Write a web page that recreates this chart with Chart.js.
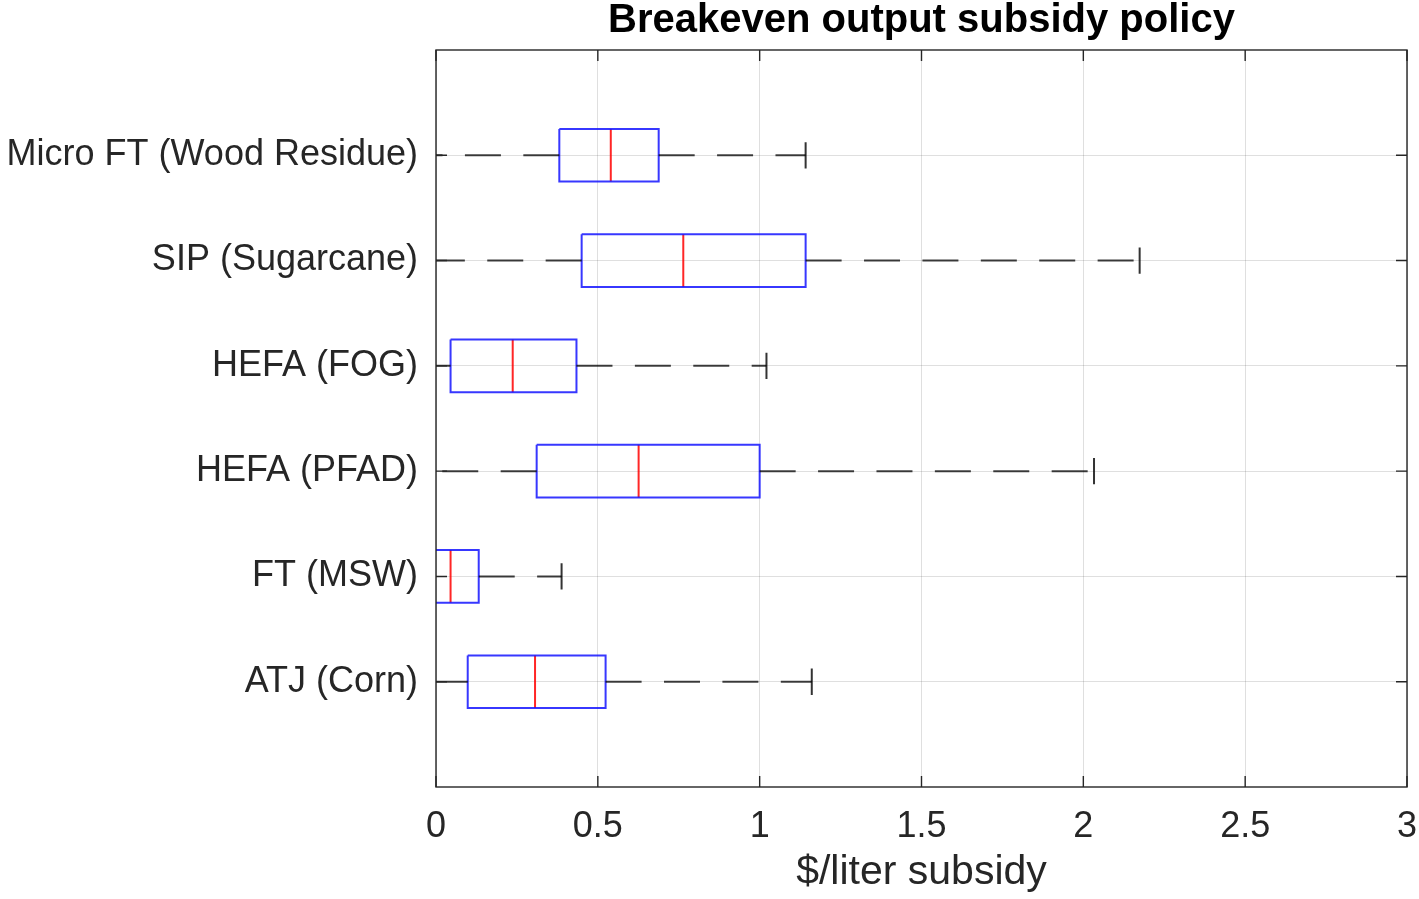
<!DOCTYPE html>
<html>
<head>
<meta charset="utf-8">
<title>Breakeven output subsidy policy</title>
<script src="https://cdn.jsdelivr.net/npm/chart.js@4"></script>
<style>
    html, body { margin: 0; padding: 0; background: #fff; }
    #wrap { width: 1419px; height: 899px; position: relative; }
</style>
</head>
<body>
<div id="wrap"><canvas id="chart"></canvas></div>
<script>
// Box plot data, one entry per category (top to bottom)
const categories = ['Micro FT (Wood Residue)', 'SIP (Sugarcane)', 'HEFA (FOG)', 'HEFA (PFAD)', 'FT (MSW)', 'ATJ (Corn)'];
const lowerWhisker = [-0.10, -0.45, -0.35, -0.50, -0.15, -0.25];
const q1 = [0.381, 0.450, 0.045, 0.311, -0.01, 0.098];
const median = [0.540, 0.764, 0.237, 0.626, 0.045, 0.306];
const q3 = [0.688, 1.142, 0.434, 1.000, 0.132, 0.524];
const upperWhisker = [1.142, 2.174, 1.021, 2.033, 0.388, 1.161];
const xTicks = [0, 0.5, 1, 1.5, 2, 2.5, 3];

const FONT = 'Liberation Sans, Arial, Helvetica, sans-serif';
const AXIS_COLOR = '#262626';
const BOX_HALF = 0.25;
const CAP_HALF = 0.125;

// Build line segments for every box
const datasets = [];
categories.forEach((name, i) => {
    const y = i + 1;
    const whisker = {
        borderColor: 'rgba(0,0,0,0.75)',
        borderWidth: 2,
        borderDash: [36, 22.4],
        showLine: true,
        pointRadius: 0
    };
    const solid = {
        borderColor: 'rgba(0,0,0,0.8)',
        borderWidth: 2,
        showLine: true,
        pointRadius: 0
    };
    datasets.push(Object.assign({ data: [{ x: q1[i], y }, { x: lowerWhisker[i], y }] }, whisker));
    datasets.push(Object.assign({ data: [{ x: q3[i], y }, { x: upperWhisker[i], y }] }, whisker));
    datasets.push(Object.assign({ data: [{ x: lowerWhisker[i], y: y - CAP_HALF }, { x: lowerWhisker[i], y: y + CAP_HALF }] }, solid));
    datasets.push(Object.assign({ data: [{ x: upperWhisker[i], y: y - CAP_HALF }, { x: upperWhisker[i], y: y + CAP_HALF }] }, solid));
    // box outline
    datasets.push({
        data: [
            { x: q1[i], y: y - BOX_HALF }, { x: q3[i], y: y - BOX_HALF },
            { x: q3[i], y: y + BOX_HALF }, { x: q1[i], y: y + BOX_HALF },
            { x: q1[i], y: y - BOX_HALF }
        ],
        borderColor: 'rgba(20,20,255,0.85)',
        borderWidth: 2,
        showLine: true,
        pointRadius: 0
    });
    // median
    datasets.push({
        data: [{ x: median[i], y: y - BOX_HALF }, { x: median[i], y: y + BOX_HALF }],
        borderColor: 'rgba(255,0,0,0.85)',
        borderWidth: 2,
        showLine: true,
        pointRadius: 0
    });
});

// Box around the axes with inward tick marks (MATLAB look)
const framePlugin = {
    id: 'frame',
    afterDraw(chart) {
        const ctx = chart.ctx;
        const a = chart.chartArea;
        const xs = chart.scales.x;
        const ys = chart.scales.y;
        const len = 11;
        ctx.save();
        ctx.strokeStyle = AXIS_COLOR;
        ctx.lineWidth = 1.4;
        ctx.strokeRect(a.left, a.top, a.right - a.left, a.bottom - a.top);
        ctx.beginPath();
        xs.ticks.forEach(t => {
            const px = xs.getPixelForValue(t.value);
            ctx.moveTo(px, a.bottom); ctx.lineTo(px, a.bottom - len);
            ctx.moveTo(px, a.top); ctx.lineTo(px, a.top + len);
        });
        ys.ticks.forEach(t => {
            const py = ys.getPixelForValue(t.value);
            ctx.moveTo(a.left, py); ctx.lineTo(a.left + len, py);
            ctx.moveTo(a.right, py); ctx.lineTo(a.right - len, py);
        });
        ctx.stroke();
        ctx.restore();
    }
};

const ctx = document.getElementById('chart').getContext('2d');

new Chart(ctx, {
    type: 'scatter',
    data: { datasets: datasets },
    options: {
        responsive: true,
        maintainAspectRatio: false,
        animation: false,
        layout: { padding: { left: 0, right: 12, top: 0, bottom: 0 } },
        plugins: {
            legend: { display: false },
            tooltip: { enabled: false }
        },
        scales: {
            x: {
                type: 'linear',
                position: 'bottom',
                min: 0,
                max: 3,
                afterBuildTicks: scale => { scale.ticks = xTicks.map(v => ({ value: v })); },
                afterFit: scale => {
                    scale.height = 112;
                    scale.paddingLeft = 0;
                    scale.paddingRight = 0;
                },
                grid: { color: 'rgba(38,38,38,0.15)', lineWidth: 1, drawTicks: false },
                border: { display: false },
                ticks: {
                    color: AXIS_COLOR,
                    font: { family: FONT, size: 36 },
                    padding: 18,
                    maxRotation: 0,
                    callback: v => String(v)
                },
                title: {
                    display: true,
                    text: '$/liter subsidy',
                    color: AXIS_COLOR,
                    font: { family: FONT, size: 41 },
                    padding: { top: 0, bottom: 2 }
                }
            },
            xTop: {
                type: 'linear',
                position: 'top',
                min: 0,
                max: 3,
                afterFit: scale => {
                    scale.height = 50;
                    scale.paddingLeft = 0;
                    scale.paddingRight = 0;
                },
                grid: { display: false, drawTicks: false },
                border: { display: false },
                ticks: { display: false },
                title: {
                    display: true,
                    text: 'Breakeven output subsidy policy',
                    color: '#000',
                    font: { family: FONT, size: 40, weight: 'bold' },
                    padding: { top: -3, bottom: 0 }
                }
            },
            y: {
                type: 'linear',
                position: 'left',
                min: 0,
                max: 7,
                reverse: true,
                afterBuildTicks: scale => { scale.ticks = categories.map((c, i) => ({ value: i + 1 })); },
                afterFit: scale => { scale.width = 436; },
                grid: { color: 'rgba(38,38,38,0.15)', lineWidth: 1, drawTicks: false },
                border: { display: false },
                ticks: {
                    color: AXIS_COLOR,
                    font: { family: FONT, size: 36 },
                    padding: 18,
                    callback: v => categories[v - 1] || ''
                }
            }
        }
    },
    plugins: [framePlugin]
});
</script>
</body>
</html>
